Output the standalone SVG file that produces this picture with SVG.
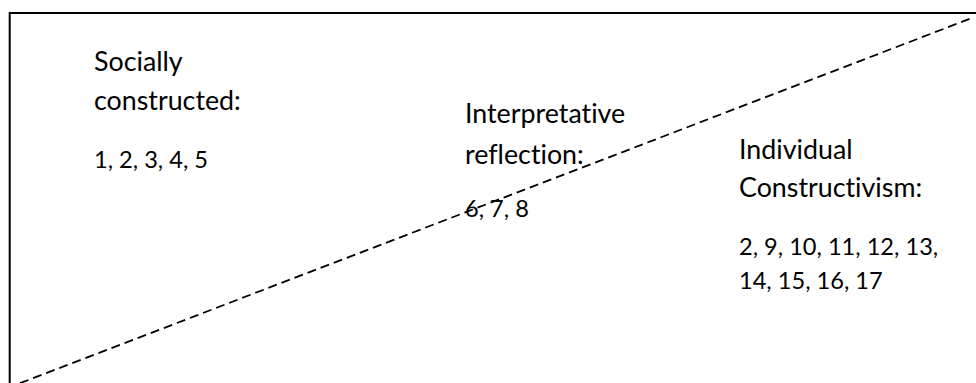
<svg xmlns="http://www.w3.org/2000/svg" width="976" height="383" viewBox="0 0 976 383">
<style>
.frame{stroke:#000;stroke-width:2;fill:none}
.diag{stroke:#000;stroke-width:1.8;fill:none;stroke-dasharray:9 5}
.h{font-family:Lato,"Liberation Sans",sans-serif;font-size:26.8px;fill:#000;font-variant-ligatures:none}
.n{font-family:Lato,"Liberation Sans",sans-serif;font-size:23.6px;fill:#000}
</style>
<rect width="976" height="383" fill="#fff"/>
<g id="frame">
<path class="frame" d="M9.7,383 V13 H976"/>
</g>
<g id="connectors">
<path class="diag" d="M20,383.2 L972,18"/>
</g>
<g id="social">
<text class="h" x="94" y="71">Socially</text>
<text class="h" x="94" y="110">constructed:</text>
<text class="n" x="94" y="168">1, 2, 3, 4, 5</text>
</g>
<g id="interpretative">
<text class="h" x="465" y="123">Interpretative</text>
<text class="h" x="465" y="164">reflection:</text>
<text class="n" x="465" y="217">6, 7, 8</text>
</g>
<g id="individual">
<text class="h" x="739" y="159">Individual</text>
<text class="h" x="739" y="197">Constructivism:</text>
<text class="n" x="739" y="255">2, 9, 10, 11, 12, 13,</text>
<text class="n" x="739" y="289">14, 15, 16, 17</text>
</g>
</svg>
